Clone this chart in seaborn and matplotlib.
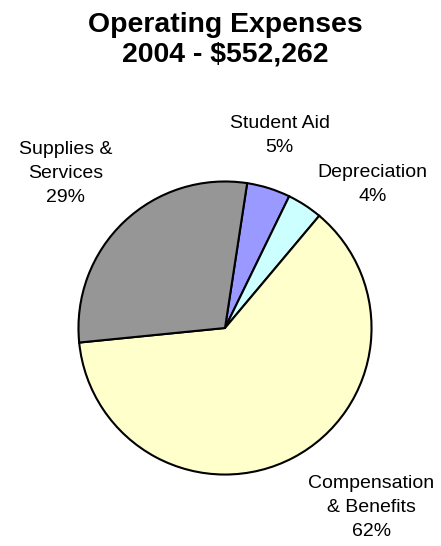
import matplotlib
matplotlib.use("Agg")
import matplotlib.pyplot as plt
import seaborn as sns

# data (share of operating expenses, %)
categorias = ["Student Aid", "Depreciation", "Compensation\n& Benefits", "Supplies &\nServices"]
valores = [4.8, 3.9, 62.3, 29.0]
colores = ["#9999FF", "#CCFFFF", "#FFFFCC", "#969696"]

titulo = "Operating Expenses\n2004 - $552,262"

# label positions in pie-radius units
pos_etiquetas = [(0.372, 1.311), (1.007, 0.980), (1.0, -1.223), (-1.088, 1.054)]

sns.set_theme(style="white")
plt.rcParams["font.family"] = ["Liberation Sans", "DejaVu Sans"]

fig = plt.figure(figsize=(4.41, 5.46), dpi=100)
ax = fig.add_axes([0.1746, 0.1282, 0.6712, 0.5421])

ax.pie(
    valores,
    colors=colores,
    startangle=81.3,
    counterclock=False,
    radius=1,
    wedgeprops={"edgecolor": "black", "linewidth": 1.5},
)
ax.set_xlim(-1.01, 1.01)
ax.set_ylim(-1.01, 1.01)
ax.set_aspect("equal")
ax.axis("off")

total = sum(valores)
for cat, val, (x, y) in zip(categorias, valores, pos_etiquetas):
    ax.text(x, y, f"{cat}\n{round(val / total * 100):.0f}%",
            ha="center", va="center", fontsize=14, linespacing=1.55,
            color="black")

fig.text(225 / 441, 1 - 40 / 546, titulo, ha="center", va="center",
         fontsize=20.4, fontweight="bold", linespacing=1.15, color="black")

fig.savefig("out.png", dpi=100, facecolor="white")
